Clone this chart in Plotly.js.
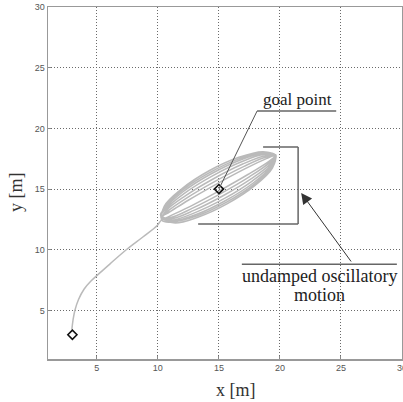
<!DOCTYPE html>
<html><head><meta charset="utf-8">
<script src="https://cdn.plot.ly/plotly-3.0.1.min.js"></script>
<style>html,body{margin:0;padding:0;background:#fff}#c{width:403px;height:402px}</style>
</head><body><div id="c"></div>
<script>
// approach trajectory from start to the oscillation region
var approachX = [2.95, 3.05, 3.20, 3.50, 3.95, 4.50, 5.20, 6.04, 7.41, 8.77, 9.95, 10.30];
var approachY = [3.40, 4.20, 5.00, 5.90, 6.75, 7.40, 8.05, 8.80, 10.00, 11.05, 12.00, 12.45];
// undamped oscillatory loops around the goal point
var loopX = [
  10.97,12.74,15.10,17.41,19.07,19.70,18.93,17.16,14.80,12.49,10.83,10.24,
  11.10,12.95,15.34,17.63,19.19,19.60,18.81,16.95,14.56,12.28,10.71,10.30,
  11.21,13.14,15.56,17.81,19.30,19.65,18.70,16.76,14.34,12.09,10.60,10.22,
  11.28,13.27,15.70,17.94,19.38,19.60,18.62,16.64,14.20,11.96,10.52,10.35,
  11.24,13.20,15.63,17.88,19.34,19.64,18.66,16.70,14.27,12.02,10.56,10.28,
  11.16,13.05,15.46,17.73,19.25,19.68,18.74,16.85,14.44,12.17,10.65,10.25,
  11.04,12.84,15.22,17.52,19.13,19.58,18.87,17.06,14.68,12.38,10.77,10.28
];
var loopY = [
  12.77,13.62,14.89,16.22,17.27,17.80,17.53,16.68,15.41,14.08,13.03,12.70,
  12.55,13.24,14.45,15.84,17.05,17.72,17.75,17.06,15.85,14.46,13.25,12.45,
  12.35,12.90,14.06,15.50,16.86,17.78,17.95,17.40,16.24,14.80,13.44,12.85,
  12.22,12.68,13.80,15.28,16.73,17.75,18.08,17.62,16.51,15.02,13.58,12.40,
  12.29,12.79,13.93,15.39,16.79,17.80,18.01,17.51,16.37,14.91,13.51,12.60,
  12.44,13.06,14.23,15.66,16.94,17.76,17.86,17.25,16.07,14.65,13.36,12.75,
  12.66,13.43,14.67,16.03,17.16,17.70,17.64,16.87,15.63,14.27,13.14,12.60
];
var startPoint = {x: [3], y: [3]};
var goalPoint = {x: [15], y: [15]};
var tickVals = [5, 10, 15, 20, 25, 30];
var tickText = ['5', '10', '15', '20', '25', '30'];

var pathX = approachX.concat(loopX);
var pathY = approachY.concat(loopY);

var serif = 'Liberation Serif, Times New Roman, serif';
var traces = [
  {x: pathX, y: pathY, mode: 'lines', line: {color: '#bababa', width: 1.5, shape: 'spline', smoothing: 1}, hoverinfo: 'skip'},
  {x: startPoint.x, y: startPoint.y, mode: 'markers', marker: {symbol: 'diamond-open', size: 7, color: '#111', line: {width: 1.6, color: '#111'}}},
  {x: goalPoint.x, y: goalPoint.y, mode: 'markers', marker: {symbol: 'diamond-open', size: 7, color: '#111', line: {width: 1.6, color: '#111'}}}
];

var axisCommon = {
  range: [1, 30], tickvals: tickVals, ticktext: tickText,
  showgrid: true, gridcolor: '#6a6a6a', griddash: '1px,2px', gridwidth: 1,
  zeroline: false, showline: true, mirror: true, linecolor: '#999', linewidth: 1.5,
  ticks: 'inside', ticklen: 3, tickcolor: '#888', ticklabeloverflow: 'allow',
  tickfont: {family: 'Liberation Sans, Arial, sans-serif', size: 9, color: '#555'}
};

var gray = '#666';
var layout = {
  width: 403, height: 402,
  margin: {l: 48, r: 1, t: 7, b: 43},
  paper_bgcolor: '#fff', plot_bgcolor: '#fff',
  showlegend: false,
  xaxis: Object.assign({}, axisCommon),
  yaxis: Object.assign({}, axisCommon),
  shapes: [
    {type: 'line', xref: 'x', yref: 'y', x0: 18.13, y0: 21.43, x1: 24.61, y1: 21.43, line: {color: gray, width: 1.5}},
    {type: 'line', xref: 'x', yref: 'y', x0: 18.13, y0: 21.43, x1: 15.0, y1: 15.0, line: {color: '#555', width: 1}},
    {type: 'line', xref: 'x', yref: 'y', x0: 18.62, y0: 18.47, x1: 21.49, y1: 18.47, line: {color: gray, width: 1.5}},
    {type: 'line', xref: 'x', yref: 'y', x0: 21.49, y0: 18.47, x1: 21.49, y1: 12.13, line: {color: gray, width: 1.5}},
    {type: 'line', xref: 'x', yref: 'y', x0: 13.30, y0: 12.13, x1: 21.49, y1: 12.13, line: {color: gray, width: 1.5}},
    {type: 'line', xref: 'x', yref: 'y', x0: 16.88, y0: 8.81, x1: 29.58, y1: 8.81, line: {color: gray, width: 1.5}}
  ],
  annotations: [
    {x: 21.41, y: 22.42, xref: 'x', yref: 'y', text: 'goal point', showarrow: false,
     font: {family: serif, size: 17, color: '#222'}},
    {x: 23.21, y: 7.84, xref: 'x', yref: 'y', text: 'undamped oscillatory', showarrow: false,
     font: {family: serif, size: 18, color: '#222'}},
    {x: 23.21, y: 6.28, xref: 'x', yref: 'y', text: 'motion', showarrow: false,
     font: {family: serif, size: 18, color: '#222'}},
    {x: 21.74, y: 14.68, xref: 'x', yref: 'y', ax: 25.92, ay: 8.91, axref: 'x', ayref: 'y',
     text: '', showarrow: true, arrowhead: 2, arrowsize: 2.2, arrowwidth: 1, arrowcolor: '#333'},
    {x: (236 - 48) / 354, y: (359 - 390) / 352, xref: 'paper', yref: 'paper', xanchor: 'center', yanchor: 'middle',
     text: 'x [m]', showarrow: false, font: {family: serif, size: 18, color: '#333'}},
    {x: (16 - 48) / 354, y: (359 - 192) / 352, xref: 'paper', yref: 'paper', xanchor: 'center', yanchor: 'middle',
     text: 'y [m]', textangle: -90, showarrow: false, font: {family: serif, size: 18, color: '#333'}}
  ]
};

Plotly.newPlot('c', traces, layout, {staticPlot: true, displayModeBar: false});
</script>
</body></html>
